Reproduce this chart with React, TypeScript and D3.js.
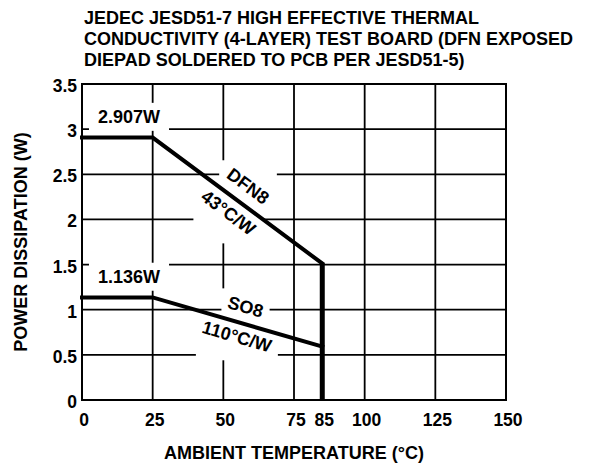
import React, { useRef, useEffect } from 'react';
import * as d3 from 'd3';

// temperatures (°C) where the derating curves change slope
const temps = [0, 25, 85];
const dfn8Power = [2.907, 2.907, 1.512];
const so8Power = [1.136, 1.136, 0.591];
const cutoffTemp = 85;

const xTicks = [0, 25, 50, 75, 85, 100, 125, 150];
const xGrid = [25, 50, 75, 100, 125];
const yTicks = [0, 0.5, 1, 1.5, 2, 2.5, 3, 3.5];

const titleLines = [
  'JEDEC JESD51-7 HIGH EFFECTIVE THERMAL',
  'CONDUCTIVITY (4-LAYER) TEST BOARD (DFN EXPOSED',
  'DIEPAD SOLDERED TO PCB PER JESD51-5)',
];

const FONT = '"Liberation Sans", Arial, Helvetica, sans-serif';

function App() {
  const ref = useRef<SVGSVGElement>(null);

  useEffect(() => {
    const svg = d3.select(ref.current);
    svg.selectAll('*').remove();

    const left = 82, right = 506, top = 84, bottom = 400;

    const x = d3.scaleLinear().domain([0, 150]).range([left, right]);
    const y = d3.scaleLinear().domain([0, 3.5]).range([bottom, top]);

    // title
    svg.append('g')
      .selectAll('text')
      .data(titleLines)
      .join('text')
      .attr('x', left + 2)
      .attr('y', (d, i) => 24 + i * 21)
      .attr('font-size', 18)
      .attr('font-weight', 'bold')
      .attr('font-family', FONT)
      .text(d => d);

    // grid
    const grid = svg.append('g').attr('stroke', '#000').attr('stroke-width', 1.8);
    grid.selectAll('line.v')
      .data(xGrid)
      .join('line')
      .attr('class', 'v')
      .attr('x1', d => x(d)).attr('x2', d => x(d))
      .attr('y1', top).attr('y2', bottom);
    grid.selectAll('line.h')
      .data(yTicks.filter(d => d > 0 && d < 3.5))
      .join('line')
      .attr('class', 'h')
      .attr('x1', left).attr('x2', right)
      .attr('y1', d => y(d)).attr('y2', d => y(d));

    // white boxes behind labels go here (drawn after measuring)
    const boxes = svg.append('g');

    svg.append('rect')
      .attr('x', left).attr('y', top)
      .attr('width', right - left).attr('height', bottom - top)
      .attr('fill', 'none').attr('stroke', '#000').attr('stroke-width', 2);

    // tick labels
    svg.append('g')
      .selectAll('text')
      .data(yTicks)
      .join('text')
      .attr('x', left - 5)
      .attr('y', d => y(d) + 8)
      .attr('text-anchor', 'end')
      .attr('font-size', 17.5)
      .attr('font-weight', 'bold')
      .attr('font-family', FONT)
      .text(d => String(d));

    svg.append('g')
      .selectAll('text')
      .data(xTicks)
      .join('text')
      .attr('x', d => x(d) + 2)
      .attr('y', 426)
      .attr('text-anchor', 'middle')
      .attr('font-size', 17.5)
      .attr('font-weight', 'bold')
      .attr('font-family', FONT)
      .text(d => String(d));

    // axis titles
    svg.append('text')
      .attr('x', (left + right) / 2)
      .attr('y', 459)
      .attr('text-anchor', 'middle')
      .attr('font-size', 18)
      .attr('font-weight', 'bold')
      .attr('font-family', FONT)
      .text('AMBIENT TEMPERATURE (°C)');

    svg.append('text')
      .attr('transform', `translate(27,${(top + bottom) / 2}) rotate(-90)`)
      .attr('text-anchor', 'middle')
      .attr('font-size', 18)
      .attr('font-weight', 'bold')
      .attr('font-family', FONT)
      .text('POWER DISSIPATION (W)');

    // labels
    const labels = svg.append('g')
      .attr('font-size', 18)
      .attr('font-weight', 'bold')
      .attr('font-family', FONT);

    const addLabel = (txt, cx, cy, angle, padX, padY) => {
      const g = labels.append('g').attr('transform', `translate(${cx},${cy}) rotate(${angle})`);
      const t = g.append('text')
        .attr('text-anchor', 'middle')
        .attr('dy', '0.35em')
        .text(txt);
      const b = (t.node() as SVGTextElement).getBBox();
      const a = angle * Math.PI / 180;
      const corners = [[b.x, b.y], [b.x + b.width, b.y], [b.x, b.y + b.height], [b.x + b.width, b.y + b.height]]
        .map(([px, py]) => [cx + px * Math.cos(a) - py * Math.sin(a), cy + px * Math.sin(a) + py * Math.cos(a)]);
      const xs = corners.map(c => c[0]), ys = corners.map(c => c[1]);
      boxes.append('rect')
        .attr('x', d3.min(xs) - padX).attr('y', d3.min(ys) - padY)
        .attr('width', d3.max(xs) - d3.min(xs) + 2 * padX)
        .attr('height', d3.max(ys) - d3.min(ys) + 2 * padY)
        .attr('fill', '#fff');
    };

    // flat-rating labels
    addLabel(`${dfn8Power[0]}W`, x(0) + 47, y(dfn8Power[0]) - 21, 0, 9, 4);
    addLabel(`${so8Power[0]}W`, x(0) + 47, y(so8Power[0]) - 21, 0, 9, 4);

    // slope labels, placed along the derating segment
    const slopeLabel = (power, above, below, tFrac, offA, offB) => {
      const x0 = x(temps[1]), y0 = y(power[1]);
      const x1 = x(temps[2]), y1 = y(power[2]);
      const ang = Math.atan2(y1 - y0, x1 - x0);
      const mx = x0 + (x1 - x0) * tFrac, my = y0 + (y1 - y0) * tFrac;
      const nx = Math.sin(ang), ny = -Math.cos(ang);
      const deg = ang * 180 / Math.PI;
      addLabel(above, mx + nx * offA, my + ny * offA, deg, 4, 4);
      addLabel(below, mx - nx * offB, my - ny * offB, deg, 4, 4);
    };
    slopeLabel(dfn8Power, 'DFN8', '43°C/W', 0.5, 18, 15);
    slopeLabel(so8Power, 'SO8', '110°C/W', 0.52, 17, 14);

    // derating curves
    const line = d3.line<number>()
      .x((d, i) => x(temps[i]))
      .y(d => y(d));

    [dfn8Power, so8Power].forEach(series => {
      svg.append('path')
        .attr('d', line(series))
        .attr('fill', 'none')
        .attr('stroke', '#000')
        .attr('stroke-width', 4)
        .attr('stroke-linecap', 'square')
        .attr('stroke-linejoin', 'miter');
    });

    // cutoff at 85°C
    svg.append('line')
      .attr('x1', x(cutoffTemp)).attr('x2', x(cutoffTemp))
      .attr('y1', y(dfn8Power[2])).attr('y2', y(0) + 1)
      .attr('stroke', '#000')
      .attr('stroke-width', 5);
  }, []);

  return (
    <div style={{ position: 'absolute', left: 0, top: 0 }}>
      <svg ref={ref} width={592} height={464} style={{ display: 'block', background: '#fff' }}></svg>
    </div>
  );
}

export default App;
